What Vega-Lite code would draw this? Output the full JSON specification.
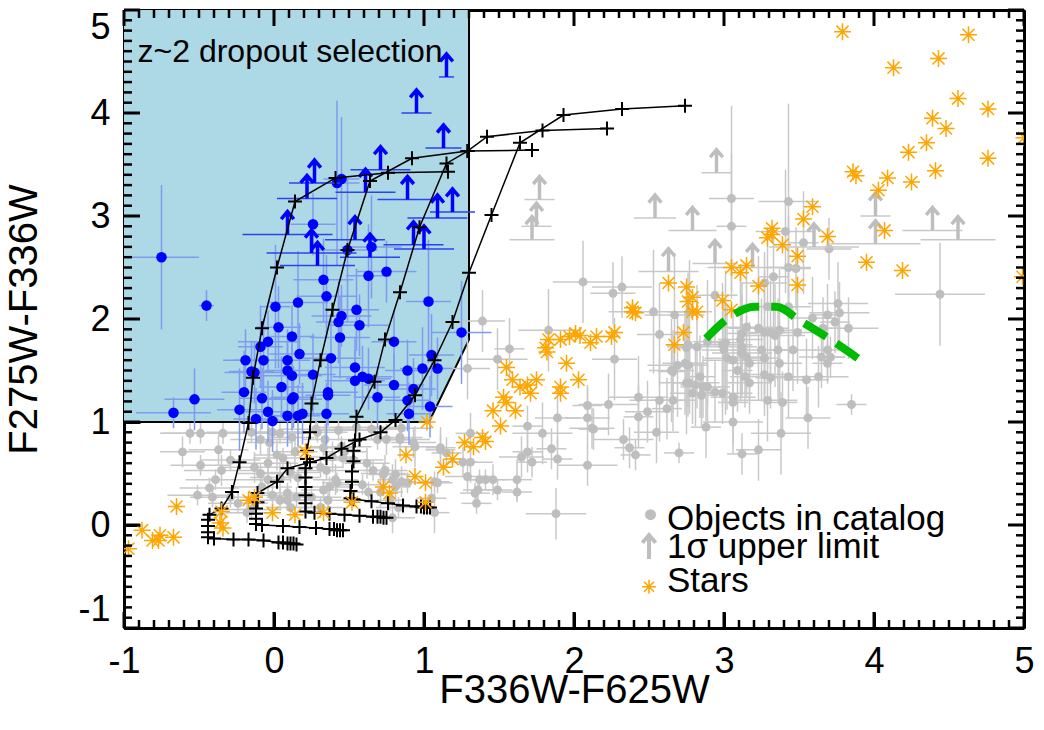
{
"$schema": "https://vega.github.io/schema/vega-lite/v6.json",
"width": 900, "height": 618,
"autosize": {"type": "none"},
"padding": {"left": 124, "top": 10, "right": 20, "bottom": 102},
"background": "white",
"config": {
 "view": {"stroke": null},
 "font": "Liberation Sans",
 "axis": {"grid": false, "domainColor": "black", "domainWidth": 3, "tickColor": "black", "tickWidth": 2.5, "labelFont": "Liberation Sans", "labelFontSize": 36, "labelColor": "black", "titleFont": "Liberation Sans", "titleFontSize": 40, "titleFontWeight": "normal", "titleColor": "black", "zindex": 1}
},
"resolve": {"scale": {"x": "shared", "y": "shared"}, "axis": {"x": "independent", "y": "independent"}},
"datasets": {
 "tmaj": [
{"x":-1,"y":-1,"s":"b"},{"x":0,"y":-1,"s":"b"},{"x":1,"y":-1,"s":"b"},{"x":2,"y":-1,"s":"b"},{"x":3,"y":-1,"s":"b"},{"x":4,"y":-1,"s":"b"},{"x":5,"y":-1,"s":"b"},
{"x":-1,"y":5,"s":"t"},{"x":0,"y":5,"s":"t"},{"x":1,"y":5,"s":"t"},{"x":2,"y":5,"s":"t"},{"x":3,"y":5,"s":"t"},{"x":4,"y":5,"s":"t"},{"x":5,"y":5,"s":"t"},
{"x":-1,"y":-1,"s":"l"},{"x":-1,"y":0,"s":"l"},{"x":-1,"y":1,"s":"l"},{"x":-1,"y":2,"s":"l"},{"x":-1,"y":3,"s":"l"},{"x":-1,"y":4,"s":"l"},{"x":-1,"y":5,"s":"l"},
{"x":5,"y":-1,"s":"r"},{"x":5,"y":0,"s":"r"},{"x":5,"y":1,"s":"r"},{"x":5,"y":2,"s":"r"},{"x":5,"y":3,"s":"r"},{"x":5,"y":4,"s":"r"},{"x":5,"y":5,"s":"r"}
 ],
 "tmin": [
{"x":-0.9,"y":-1,"s":"b"},{"x":-0.8,"y":-1,"s":"b"},{"x":-0.7,"y":-1,"s":"b"},{"x":-0.6,"y":-1,"s":"b"},{"x":-0.5,"y":-1,"s":"b"},{"x":-0.4,"y":-1,"s":"b"},{"x":-0.3,"y":-1,"s":"b"},{"x":-0.2,"y":-1,"s":"b"},{"x":-0.1,"y":-1,"s":"b"},
{"x":0.1,"y":-1,"s":"b"},{"x":0.2,"y":-1,"s":"b"},{"x":0.3,"y":-1,"s":"b"},{"x":0.4,"y":-1,"s":"b"},{"x":0.5,"y":-1,"s":"b"},{"x":0.6,"y":-1,"s":"b"},{"x":0.7,"y":-1,"s":"b"},{"x":0.8,"y":-1,"s":"b"},{"x":0.9,"y":-1,"s":"b"},
{"x":1.1,"y":-1,"s":"b"},{"x":1.2,"y":-1,"s":"b"},{"x":1.3,"y":-1,"s":"b"},{"x":1.4,"y":-1,"s":"b"},{"x":1.5,"y":-1,"s":"b"},{"x":1.6,"y":-1,"s":"b"},{"x":1.7,"y":-1,"s":"b"},{"x":1.8,"y":-1,"s":"b"},{"x":1.9,"y":-1,"s":"b"},
{"x":2.1,"y":-1,"s":"b"},{"x":2.2,"y":-1,"s":"b"},{"x":2.3,"y":-1,"s":"b"},{"x":2.4,"y":-1,"s":"b"},{"x":2.5,"y":-1,"s":"b"},{"x":2.6,"y":-1,"s":"b"},{"x":2.7,"y":-1,"s":"b"},{"x":2.8,"y":-1,"s":"b"},{"x":2.9,"y":-1,"s":"b"},
{"x":3.1,"y":-1,"s":"b"},{"x":3.2,"y":-1,"s":"b"},{"x":3.3,"y":-1,"s":"b"},{"x":3.4,"y":-1,"s":"b"},{"x":3.5,"y":-1,"s":"b"},{"x":3.6,"y":-1,"s":"b"},{"x":3.7,"y":-1,"s":"b"},{"x":3.8,"y":-1,"s":"b"},{"x":3.9,"y":-1,"s":"b"},
{"x":4.1,"y":-1,"s":"b"},{"x":4.2,"y":-1,"s":"b"},{"x":4.3,"y":-1,"s":"b"},{"x":4.4,"y":-1,"s":"b"},{"x":4.5,"y":-1,"s":"b"},{"x":4.6,"y":-1,"s":"b"},{"x":4.7,"y":-1,"s":"b"},{"x":4.8,"y":-1,"s":"b"},{"x":4.9,"y":-1,"s":"b"},
{"x":-0.9,"y":5,"s":"t"},{"x":-0.8,"y":5,"s":"t"},{"x":-0.7,"y":5,"s":"t"},{"x":-0.6,"y":5,"s":"t"},{"x":-0.5,"y":5,"s":"t"},{"x":-0.4,"y":5,"s":"t"},{"x":-0.3,"y":5,"s":"t"},{"x":-0.2,"y":5,"s":"t"},{"x":-0.1,"y":5,"s":"t"},
{"x":0.1,"y":5,"s":"t"},{"x":0.2,"y":5,"s":"t"},{"x":0.3,"y":5,"s":"t"},{"x":0.4,"y":5,"s":"t"},{"x":0.5,"y":5,"s":"t"},{"x":0.6,"y":5,"s":"t"},{"x":0.7,"y":5,"s":"t"},{"x":0.8,"y":5,"s":"t"},{"x":0.9,"y":5,"s":"t"},
{"x":1.1,"y":5,"s":"t"},{"x":1.2,"y":5,"s":"t"},{"x":1.3,"y":5,"s":"t"},{"x":1.4,"y":5,"s":"t"},{"x":1.5,"y":5,"s":"t"},{"x":1.6,"y":5,"s":"t"},{"x":1.7,"y":5,"s":"t"},{"x":1.8,"y":5,"s":"t"},{"x":1.9,"y":5,"s":"t"},
{"x":2.1,"y":5,"s":"t"},{"x":2.2,"y":5,"s":"t"},{"x":2.3,"y":5,"s":"t"},{"x":2.4,"y":5,"s":"t"},{"x":2.5,"y":5,"s":"t"},{"x":2.6,"y":5,"s":"t"},{"x":2.7,"y":5,"s":"t"},{"x":2.8,"y":5,"s":"t"},{"x":2.9,"y":5,"s":"t"},
{"x":3.1,"y":5,"s":"t"},{"x":3.2,"y":5,"s":"t"},{"x":3.3,"y":5,"s":"t"},{"x":3.4,"y":5,"s":"t"},{"x":3.5,"y":5,"s":"t"},{"x":3.6,"y":5,"s":"t"},{"x":3.7,"y":5,"s":"t"},{"x":3.8,"y":5,"s":"t"},{"x":3.9,"y":5,"s":"t"},
{"x":4.1,"y":5,"s":"t"},{"x":4.2,"y":5,"s":"t"},{"x":4.3,"y":5,"s":"t"},{"x":4.4,"y":5,"s":"t"},{"x":4.5,"y":5,"s":"t"},{"x":4.6,"y":5,"s":"t"},{"x":4.7,"y":5,"s":"t"},{"x":4.8,"y":5,"s":"t"},{"x":4.9,"y":5,"s":"t"},
{"x":-1,"y":-0.9,"s":"l"},{"x":-1,"y":-0.8,"s":"l"},{"x":-1,"y":-0.7,"s":"l"},{"x":-1,"y":-0.6,"s":"l"},{"x":-1,"y":-0.5,"s":"l"},{"x":-1,"y":-0.4,"s":"l"},{"x":-1,"y":-0.3,"s":"l"},{"x":-1,"y":-0.2,"s":"l"},{"x":-1,"y":-0.1,"s":"l"},
{"x":-1,"y":0.1,"s":"l"},{"x":-1,"y":0.2,"s":"l"},{"x":-1,"y":0.3,"s":"l"},{"x":-1,"y":0.4,"s":"l"},{"x":-1,"y":0.5,"s":"l"},{"x":-1,"y":0.6,"s":"l"},{"x":-1,"y":0.7,"s":"l"},{"x":-1,"y":0.8,"s":"l"},{"x":-1,"y":0.9,"s":"l"},
{"x":-1,"y":1.1,"s":"l"},{"x":-1,"y":1.2,"s":"l"},{"x":-1,"y":1.3,"s":"l"},{"x":-1,"y":1.4,"s":"l"},{"x":-1,"y":1.5,"s":"l"},{"x":-1,"y":1.6,"s":"l"},{"x":-1,"y":1.7,"s":"l"},{"x":-1,"y":1.8,"s":"l"},{"x":-1,"y":1.9,"s":"l"},
{"x":-1,"y":2.1,"s":"l"},{"x":-1,"y":2.2,"s":"l"},{"x":-1,"y":2.3,"s":"l"},{"x":-1,"y":2.4,"s":"l"},{"x":-1,"y":2.5,"s":"l"},{"x":-1,"y":2.6,"s":"l"},{"x":-1,"y":2.7,"s":"l"},{"x":-1,"y":2.8,"s":"l"},{"x":-1,"y":2.9,"s":"l"},
{"x":-1,"y":3.1,"s":"l"},{"x":-1,"y":3.2,"s":"l"},{"x":-1,"y":3.3,"s":"l"},{"x":-1,"y":3.4,"s":"l"},{"x":-1,"y":3.5,"s":"l"},{"x":-1,"y":3.6,"s":"l"},{"x":-1,"y":3.7,"s":"l"},{"x":-1,"y":3.8,"s":"l"},{"x":-1,"y":3.9,"s":"l"},
{"x":-1,"y":4.1,"s":"l"},{"x":-1,"y":4.2,"s":"l"},{"x":-1,"y":4.3,"s":"l"},{"x":-1,"y":4.4,"s":"l"},{"x":-1,"y":4.5,"s":"l"},{"x":-1,"y":4.6,"s":"l"},{"x":-1,"y":4.7,"s":"l"},{"x":-1,"y":4.8,"s":"l"},{"x":-1,"y":4.9,"s":"l"},
{"x":5,"y":-0.9,"s":"r"},{"x":5,"y":-0.8,"s":"r"},{"x":5,"y":-0.7,"s":"r"},{"x":5,"y":-0.6,"s":"r"},{"x":5,"y":-0.5,"s":"r"},{"x":5,"y":-0.4,"s":"r"},{"x":5,"y":-0.3,"s":"r"},{"x":5,"y":-0.2,"s":"r"},{"x":5,"y":-0.1,"s":"r"},
{"x":5,"y":0.1,"s":"r"},{"x":5,"y":0.2,"s":"r"},{"x":5,"y":0.3,"s":"r"},{"x":5,"y":0.4,"s":"r"},{"x":5,"y":0.5,"s":"r"},{"x":5,"y":0.6,"s":"r"},{"x":5,"y":0.7,"s":"r"},{"x":5,"y":0.8,"s":"r"},{"x":5,"y":0.9,"s":"r"},
{"x":5,"y":1.1,"s":"r"},{"x":5,"y":1.2,"s":"r"},{"x":5,"y":1.3,"s":"r"},{"x":5,"y":1.4,"s":"r"},{"x":5,"y":1.5,"s":"r"},{"x":5,"y":1.6,"s":"r"},{"x":5,"y":1.7,"s":"r"},{"x":5,"y":1.8,"s":"r"},{"x":5,"y":1.9,"s":"r"},
{"x":5,"y":2.1,"s":"r"},{"x":5,"y":2.2,"s":"r"},{"x":5,"y":2.3,"s":"r"},{"x":5,"y":2.4,"s":"r"},{"x":5,"y":2.5,"s":"r"},{"x":5,"y":2.6,"s":"r"},{"x":5,"y":2.7,"s":"r"},{"x":5,"y":2.8,"s":"r"},{"x":5,"y":2.9,"s":"r"},
{"x":5,"y":3.1,"s":"r"},{"x":5,"y":3.2,"s":"r"},{"x":5,"y":3.3,"s":"r"},{"x":5,"y":3.4,"s":"r"},{"x":5,"y":3.5,"s":"r"},{"x":5,"y":3.6,"s":"r"},{"x":5,"y":3.7,"s":"r"},{"x":5,"y":3.8,"s":"r"},{"x":5,"y":3.9,"s":"r"},
{"x":5,"y":4.1,"s":"r"},{"x":5,"y":4.2,"s":"r"},{"x":5,"y":4.3,"s":"r"},{"x":5,"y":4.4,"s":"r"},{"x":5,"y":4.5,"s":"r"},{"x":5,"y":4.6,"s":"r"},{"x":5,"y":4.7,"s":"r"},{"x":5,"y":4.8,"s":"r"},{"x":5,"y":4.9,"s":"r"}
 ],
 "box": [{"x": -1, "ylo": 1, "yhi": 5}, {"x": 1.033, "ylo": 1, "yhi": 5}, {"x": 1.3, "ylo": 1.8, "yhi": 5}],
 "boxline": [{"o": 1, "x": 1.3, "y": 5}, {"o": 2, "x": 1.3, "y": 1.8}, {"o": 3, "x": 1.033, "y": 1}, {"o": 4, "x": -1, "y": 1}],
 "gray": [
{"x":3.05,"y":3.17,"ex":0.15,"ey":0.9},{"x":3.43,"y":3.14,"ex":0.2,"ey":0.95},{"x":3.05,"y":2.90,"ex":0.1,"ey":0.7},{"x":3.41,"y":2.85,"ex":0.2,"ey":0.6},{"x":3.53,"y":2.74,"ex":0.1,"ey":0.5},{"x":3.70,"y":2.68,"ex":0.15,"ey":0.3},{"x":3.43,"y":2.50,"ex":0.15,"ey":0.5},{"x":3.48,"y":2.49,"ex":0.1,"ey":0.4},{"x":3.33,"y":2.41,"ex":0.1,"ey":0.5},{"x":3.27,"y":2.35,"ex":0.15,"ey":0.3},
{"x":2.32,"y":2.31,"ex":0.2,"ey":0.3},{"x":2.06,"y":2.36,"ex":0.2,"ey":0.4},{"x":2.26,"y":2.25,"ex":0.15,"ey":0.3},{"x":4.44,"y":2.24,"ex":0.3,"ey":0.5},{"x":3.76,"y":2.15,"ex":0.2,"ey":0.4},{"x":2.94,"y":2.23,"ex":0.15,"ey":0.5},{"x":3.29,"y":2.12,"ex":0.2,"ey":0.6},{"x":3.43,"y":2.12,"ex":0.15,"ey":0.5},{"x":3.77,"y":2.06,"ex":0.2,"ey":0.3},{"x":3.69,"y":2.04,"ex":0.1,"ey":0.3},
{"x":2.53,"y":2.07,"ex":0.3,"ey":0.6},{"x":2.67,"y":2.04,"ex":0.2,"ey":0.6},{"x":2.77,"y":2.07,"ex":0.15,"ey":0.5},{"x":3.83,"y":1.91,"ex":0.2,"ey":0.3},{"x":3.59,"y":2.01,"ex":0.15,"ey":0.4},{"x":3.74,"y":1.97,"ex":0.1,"ey":0.3},{"x":3.66,"y":1.91,"ex":0.1,"ey":0.3},{"x":3.49,"y":1.87,"ex":0.2,"ey":0.5},{"x":3.46,"y":1.70,"ex":0.15,"ey":0.4},{"x":3.69,"y":1.70,"ex":0.1,"ey":0.3},
{"x":3.65,"y":1.63,"ex":0.15,"ey":0.3},{"x":3.71,"y":1.63,"ex":0.1,"ey":0.2},{"x":3.69,"y":1.57,"ex":0.1,"ey":0.2},{"x":3.63,"y":1.44,"ex":0.2,"ey":0.3},{"x":3.55,"y":1.41,"ex":0.15,"ey":0.4},{"x":3.43,"y":1.44,"ex":0.1,"ey":0.4},{"x":3.37,"y":1.89,"ex":0.15,"ey":0.6},{"x":3.34,"y":1.84,"ex":0.2,"ey":0.5},{"x":3.31,"y":1.87,"ex":0.1,"ey":0.5},{"x":3.27,"y":1.87,"ex":0.15,"ey":0.6},
{"x":3.23,"y":1.91,"ex":0.2,"ey":0.7},{"x":3.36,"y":1.70,"ex":0.1,"ey":0.5},{"x":3.37,"y":1.57,"ex":0.15,"ey":0.4},{"x":3.25,"y":1.70,"ex":0.2,"ey":0.5},{"x":3.27,"y":1.62,"ex":0.1,"ey":0.4},{"x":3.27,"y":1.46,"ex":0.15,"ey":0.4},{"x":3.31,"y":1.43,"ex":0.1,"ey":0.3},{"x":3.29,"y":1.21,"ex":0.2,"ey":0.4},{"x":3.39,"y":1.19,"ex":0.1,"ey":0.3},{"x":3.56,"y":1.04,"ex":0.15,"ey":0.3},
{"x":3.85,"y":1.17,"ex":0.1,"ey":0.1},{"x":3.15,"y":1.92,"ex":0.2,"ey":0.6},{"x":3.12,"y":1.86,"ex":0.1,"ey":0.5},{"x":3.11,"y":1.80,"ex":0.15,"ey":0.6},{"x":3.12,"y":1.73,"ex":0.1,"ey":0.5},{"x":3.12,"y":1.67,"ex":0.2,"ey":0.4},{"x":3.15,"y":1.63,"ex":0.1,"ey":0.4},{"x":3.17,"y":1.57,"ex":0.15,"ey":0.4},{"x":3.06,"y":1.60,"ex":0.2,"ey":0.5},{"x":3.09,"y":1.50,"ex":0.1,"ey":0.4},
{"x":3.02,"y":1.62,"ex":0.15,"ey":0.5},{"x":3.14,"y":1.44,"ex":0.1,"ey":0.3},{"x":3.17,"y":1.38,"ex":0.15,"ey":0.3},{"x":2.99,"y":1.75,"ex":0.2,"ey":0.6},{"x":3.01,"y":1.77,"ex":0.1,"ey":0.7},{"x":3.00,"y":1.70,"ex":0.15,"ey":0.5},{"x":2.89,"y":1.78,"ex":0.1,"ey":0.6},{"x":2.82,"y":1.73,"ex":0.2,"ey":0.6},{"x":2.76,"y":1.75,"ex":0.15,"ey":0.7},{"x":2.75,"y":1.72,"ex":0.1,"ey":0.5},
{"x":2.74,"y":1.57,"ex":0.15,"ey":0.5},{"x":2.76,"y":1.55,"ex":0.1,"ey":0.4},{"x":2.69,"y":1.55,"ex":0.2,"ey":0.5},{"x":2.66,"y":1.49,"ex":0.1,"ey":0.4},{"x":2.65,"y":1.50,"ex":0.15,"ey":0.5},{"x":2.84,"y":1.44,"ex":0.1,"ey":0.4},{"x":2.86,"y":1.34,"ex":0.15,"ey":0.3},{"x":2.81,"y":1.36,"ex":0.1,"ey":0.4},{"x":2.77,"y":1.38,"ex":0.2,"ey":0.3},{"x":2.75,"y":1.38,"ex":0.1,"ey":0.5},
{"x":2.79,"y":1.28,"ex":0.15,"ey":0.3},{"x":2.85,"y":1.26,"ex":0.1,"ey":0.3},{"x":2.89,"y":1.34,"ex":0.15,"ey":0.4},{"x":2.94,"y":1.29,"ex":0.1,"ey":0.3},{"x":2.99,"y":1.28,"ex":0.2,"ey":0.3},{"x":3.06,"y":1.24,"ex":0.15,"ey":0.3},{"x":3.06,"y":1.19,"ex":0.1,"ey":0.4},{"x":2.66,"y":1.21,"ex":0.15,"ey":0.3},{"x":2.57,"y":1.21,"ex":0.2,"ey":0.4},{"x":2.62,"y":1.13,"ex":0.1,"ey":0.3},
{"x":2.55,"y":0.90,"ex":0.15,"ey":0.3},{"x":2.43,"y":1.24,"ex":0.2,"ey":0.4},{"x":2.43,"y":1.05,"ex":0.1,"ey":0.3},{"x":2.49,"y":1.10,"ex":0.15,"ey":0.3},{"x":2.88,"y":0.95,"ex":0.1,"ey":0.3},{"x":3.06,"y":1.00,"ex":0.2,"ey":0.3},{"x":3.12,"y":0.69,"ex":0.1,"ey":0.2},{"x":3.23,"y":0.73,"ex":0.15,"ey":0.3},{"x":3.38,"y":0.89,"ex":0.2,"ey":0.4},{"x":2.33,"y":0.83,"ex":0.2,"ey":0.2},
{"x":2.37,"y":0.75,"ex":0.1,"ey":0.2},{"x":2.41,"y":0.68,"ex":0.1,"ey":0.15},{"x":2.70,"y":0.70,"ex":0.1,"ey":0.1},{"x":2.23,"y":1.17,"ex":0.2,"ey":0.3},{"x":2.09,"y":1.16,"ex":0.1,"ey":0.2},{"x":2.09,"y":1.04,"ex":0.15,"ey":0.3},{"x":2.13,"y":0.93,"ex":0.1,"ey":0.2},{"x":1.89,"y":1.04,"ex":0.15,"ey":0.3},{"x":1.79,"y":0.89,"ex":0.2,"ey":0.3},{"x":1.69,"y":0.96,"ex":0.1,"ey":0.2},
{"x":1.85,"y":0.74,"ex":0.1,"ey":0.2},{"x":1.89,"y":0.64,"ex":0.1,"ey":0.2},{"x":2.09,"y":0.58,"ex":0.2,"ey":0.2},{"x":1.69,"y":0.71,"ex":0.1,"ey":0.2},{"x":1.65,"y":0.66,"ex":0.15,"ey":0.2},{"x":1.72,"y":0.61,"ex":0.1,"ey":0.15},{"x":1.62,"y":0.44,"ex":0.1,"ey":0.2},{"x":1.46,"y":0.44,"ex":0.1,"ey":0.15},{"x":1.41,"y":0.44,"ex":0.1,"ey":0.1},{"x":1.37,"y":0.44,"ex":0.1,"ey":0.1},
{"x":1.29,"y":0.47,"ex":0.15,"ey":0.15},{"x":1.49,"y":0.34,"ex":0.1,"ey":0.1},{"x":1.36,"y":0.34,"ex":0.1,"ey":0.1},{"x":1.34,"y":0.31,"ex":0.1,"ey":0.1},{"x":1.35,"y":0.21,"ex":0.1,"ey":0.1},{"x":1.62,"y":0.32,"ex":0.1,"ey":0.1},{"x":1.31,"y":0.61,"ex":0.15,"ey":0.2},{"x":1.26,"y":0.61,"ex":0.1,"ey":0.15},{"x":1.31,"y":0.89,"ex":0.1,"ey":0.2},{"x":1.29,"y":1.52,"ex":0.15,"ey":0.3},
{"x":1.39,"y":1.98,"ex":0.15,"ey":0.3},{"x":1.83,"y":1.89,"ex":0.2,"ey":0.4},{"x":2.57,"y":1.85,"ex":0.15,"ey":0.5},{"x":1.57,"y":1.71,"ex":0.1,"ey":0.3},{"x":1.49,"y":1.61,"ex":0.2,"ey":0.3},{"x":2.27,"y":1.61,"ex":0.15,"ey":0.4},{"x":2.12,"y":0.94,"ex":0.15,"ey":0.2},{"x":1.11,"y":0.75,"ex":0.1,"ey":0.2},{"x":1.15,"y":0.70,"ex":0.1,"ey":0.15},{"x":1.09,"y":0.41,"ex":0.1,"ey":0.1},
{"x":1.07,"y":0.42,"ex":0.1,"ey":0.1},{"x":0.94,"y":0.76,"ex":0.15,"ey":0.2},{"x":0.84,"y":0.85,"ex":0.15,"ey":0.2},{"x":0.74,"y":0.53,"ex":0.15,"ey":0.15},{"x":0.81,"y":0.49,"ex":0.1,"ey":0.15},{"x":0.79,"y":0.44,"ex":0.1,"ey":0.15},{"x":0.73,"y":0.49,"ex":0.1,"ey":0.1},{"x":0.81,"y":0.37,"ex":0.1,"ey":0.15},{"x":0.89,"y":0.41,"ex":0.1,"ey":0.1},{"x":1.07,"y":0.12,"ex":0.1,"ey":0.2},
{"x":0.79,"y":0.07,"ex":0.15,"ey":0.15},{"x":1.88,"y":0.11,"ex":0.2,"ey":0.25},
{"x":-0.56,"y":0.89,"ex":0.2,"ey":0.1},{"x":-0.49,"y":0.89,"ex":0.25,"ey":0.1},{"x":-0.34,"y":0.89,"ex":0.2,"ey":0.1},{"x":-0.61,"y":0.71,"ex":0.15,"ey":0.15},{"x":-0.49,"y":0.58,"ex":0.2,"ey":0.1},{"x":-0.37,"y":0.73,"ex":0.2,"ey":0.15},{"x":-0.29,"y":0.63,"ex":0.2,"ey":0.1},{"x":-0.35,"y":0.53,"ex":0.25,"ey":0.15},{"x":-0.39,"y":0.44,"ex":0.2,"ey":0.1},{"x":-0.43,"y":0.36,"ex":0.2,"ey":0.1},
{"x":-0.41,"y":0.27,"ex":0.15,"ey":0.1},{"x":-0.51,"y":0.29,"ex":0.2,"ey":0.1},{"x":-0.09,"y":0.83,"ex":0.2,"ey":0.15},{"x":-0.03,"y":0.80,"ex":0.15,"ey":0.15},{"x":-0.01,"y":0.90,"ex":0.2,"ey":0.1},{"x":-0.15,"y":0.90,"ex":0.3,"ey":0.1},{"x":-0.13,"y":0.56,"ex":0.2,"ey":0.15},{"x":-0.09,"y":0.50,"ex":0.15,"ey":0.1},{"x":-0.04,"y":0.60,"ex":0.2,"ey":0.15},{"x":-0.04,"y":0.44,"ex":0.15,"ey":0.15},
{"x":-0.08,"y":0.37,"ex":0.2,"ey":0.1},{"x":-0.01,"y":0.29,"ex":0.15,"ey":0.1},{"x":0.04,"y":0.24,"ex":0.2,"ey":0.1},{"x":0.09,"y":0.31,"ex":0.15,"ey":0.1},{"x":0.04,"y":0.89,"ex":0.2,"ey":0.1},{"x":0.12,"y":0.85,"ex":0.15,"ey":0.15},{"x":0.14,"y":0.71,"ex":0.15,"ey":0.15},{"x":0.06,"y":0.65,"ex":0.2,"ey":0.1},{"x":0.02,"y":0.68,"ex":0.15,"ey":0.15},{"x":0.11,"y":0.51,"ex":0.2,"ey":0.1},
{"x":0.16,"y":0.46,"ex":0.15,"ey":0.1},{"x":0.04,"y":0.46,"ex":0.2,"ey":0.15},{"x":0.09,"y":0.24,"ex":0.15,"ey":0.1},{"x":0.11,"y":0.17,"ex":0.15,"ey":0.1},{"x":0.15,"y":0.27,"ex":0.2,"ey":0.1},{"x":0.29,"y":0.90,"ex":0.2,"ey":0.1},{"x":0.34,"y":0.83,"ex":0.15,"ey":0.15},{"x":0.33,"y":0.75,"ex":0.2,"ey":0.1},{"x":0.39,"y":0.66,"ex":0.15,"ey":0.15},{"x":0.45,"y":0.76,"ex":0.2,"ey":0.1},
{"x":0.31,"y":0.56,"ex":0.15,"ey":0.1},{"x":0.35,"y":0.53,"ex":0.2,"ey":0.1},{"x":0.41,"y":0.44,"ex":0.15,"ey":0.15},{"x":0.42,"y":0.41,"ex":0.1,"ey":0.1},{"x":0.37,"y":0.37,"ex":0.15,"ey":0.1},{"x":0.25,"y":0.27,"ex":0.2,"ey":0.1},{"x":0.33,"y":0.34,"ex":0.15,"ey":0.1},{"x":0.47,"y":0.71,"ex":0.15,"ey":0.1},{"x":0.46,"y":0.65,"ex":0.1,"ey":0.1},{"x":0.53,"y":0.63,"ex":0.2,"ey":0.1},
{"x":0.62,"y":0.60,"ex":0.15,"ey":0.15},{"x":0.66,"y":0.53,"ex":0.1,"ey":0.1},{"x":0.73,"y":0.50,"ex":0.15,"ey":0.1},{"x":0.59,"y":0.39,"ex":0.15,"ey":0.1},{"x":0.63,"y":0.32,"ex":0.1,"ey":0.1},{"x":0.71,"y":0.32,"ex":0.15,"ey":0.15},{"x":0.77,"y":0.24,"ex":0.1,"ey":0.1},{"x":0.83,"y":0.17,"ex":0.15,"ey":0.1},{"x":0.85,"y":0.42,"ex":0.1,"ey":0.15},{"x":0.69,"y":0.83,"ex":0.2,"ey":0.1},
{"x":0.75,"y":0.83,"ex":0.15,"ey":0.15},{"x":0.84,"y":0.83,"ex":0.2,"ey":0.1},{"x":0.93,"y":0.80,"ex":0.15,"ey":0.15},{"x":0.85,"y":0.94,"ex":0.2,"ey":0.1},{"x":1.05,"y":0.26,"ex":0.1,"ey":0.15},{"x":1.11,"y":0.73,"ex":0.1,"ey":0.15},{"x":-0.15,"y":0.15,"ex":0.2,"ey":0.1},{"x":-0.29,"y":0.27,"ex":0.15,"ey":0.1},{"x":-0.24,"y":0.21,"ex":0.2,"ey":0.1},{"x":-0.18,"y":0.12,"ex":0.15,"ey":0.1},
{"x":0.28,"y":0.93,"ex":0.25,"ey":0.1},{"x":0.43,"y":0.92,"ex":0.2,"ey":0.1},{"x":0.55,"y":0.95,"ex":0.3,"ey":0.1},{"x":0.65,"y":0.93,"ex":0.2,"ey":0.1},{"x":0.31,"y":0.17,"ex":0.15,"ey":0.1},{"x":0.36,"y":0.24,"ex":0.2,"ey":0.1}
 ],
 "garrow": [
{"x":1.77,"y":3.16,"ex":0.1},{"x":1.75,"y":2.90,"ex":0.1},{"x":1.72,"y":2.77,"ex":0.15},{"x":2.54,"y":2.98,"ex":0.14},{"x":2.79,"y":2.86,"ex":0.16},{"x":2.63,"y":2.46,"ex":0.2},{"x":2.95,"y":3.42,"ex":0.1},{"x":2.94,"y":2.54,"ex":0.15},{"x":3.19,"y":2.50,"ex":0.3},{"x":3.60,"y":2.70,"ex":0.3},{"x":4.01,"y":3.00,"ex":0.1},{"x":4.01,"y":2.73,"ex":0.3},{"x":4.39,"y":2.86,"ex":0.2},{"x":4.56,"y":2.77,"ex":0.25}
 ],
 "blue": [
{"x":0.42,"y":3.32,"ex":0.15,"ey":0.8},{"x":0.45,"y":3.36,"ex":0.12,"ey":0.6},{"x":0.26,"y":2.92,"ex":0.15,"ey":0.3},{"x":0.49,"y":2.67,"ex":0.2,"ey":0.7},{"x":0.65,"y":2.70,"ex":0.2,"ey":0.5},{"x":0.33,"y":2.38,"ex":0.2,"ey":0.4},{"x":0.63,"y":2.42,"ex":0.15,"ey":0.5},{"x":0.75,"y":2.46,"ex":0.2,"ey":0.3},{"x":-0.45,"y":2.13,"ex":0.05,"ey":0.15},{"x":-0.75,"y":2.60,"ex":0.25,"ey":0.7},
{"x":0.35,"y":2.22,"ex":0.2,"ey":0.4},{"x":0.01,"y":2.12,"ex":0.1,"ey":0.6},{"x":0.16,"y":2.16,"ex":0.2,"ey":0.5},{"x":1.03,"y":2.17,"ex":0.15,"ey":0.6},{"x":0.55,"y":2.09,"ex":0.15,"ey":0.4},{"x":0.45,"y":2.03,"ex":0.2,"ey":0.3},{"x":0.43,"y":1.97,"ex":0.15,"ey":0.4},{"x":0.57,"y":1.94,"ex":0.2,"ey":0.3},{"x":0.03,"y":1.92,"ex":0.15,"ey":0.4},{"x":0.12,"y":1.83,"ex":0.15,"ey":0.3},
{"x":0.44,"y":1.82,"ex":0.2,"ey":0.4},{"x":-0.04,"y":1.78,"ex":0.2,"ey":0.3},{"x":-0.09,"y":1.73,"ex":0.15,"ey":0.4},{"x":0.80,"y":1.78,"ex":0.15,"ey":0.3},{"x":1.25,"y":1.87,"ex":0.2,"ey":0.5},{"x":0.17,"y":1.66,"ex":0.2,"ey":0.3},{"x":-0.19,"y":1.60,"ex":0.15,"ey":0.3},{"x":-0.07,"y":1.60,"ex":0.2,"ey":0.4},{"x":0.09,"y":1.60,"ex":0.15,"ey":0.3},{"x":0.38,"y":1.62,"ex":0.2,"ey":0.4},
{"x":1.05,"y":1.65,"ex":0.15,"ey":0.4},{"x":0.54,"y":1.53,"ex":0.2,"ey":0.3},{"x":0.89,"y":1.50,"ex":0.15,"ey":0.3},{"x":0.99,"y":1.52,"ex":0.15,"ey":0.4},{"x":1.09,"y":1.52,"ex":0.1,"ey":0.3},{"x":-0.13,"y":1.48,"ex":0.2,"ey":0.3},{"x":-0.15,"y":1.49,"ex":0.15,"ey":0.3},{"x":0.09,"y":1.50,"ex":0.15,"ey":0.3},{"x":0.12,"y":1.45,"ex":0.2,"ey":0.3},{"x":0.26,"y":1.46,"ex":0.15,"ey":0.4},
{"x":0.59,"y":1.44,"ex":0.2,"ey":0.3},{"x":0.63,"y":1.42,"ex":0.15,"ey":0.3},{"x":0.54,"y":1.40,"ex":0.2,"ey":0.3},{"x":0.05,"y":1.34,"ex":0.15,"ey":0.3},{"x":0.80,"y":1.36,"ex":0.2,"ey":0.3},{"x":0.93,"y":1.32,"ex":0.15,"ey":0.3},{"x":-0.20,"y":1.29,"ex":0.15,"ey":0.4},{"x":0.36,"y":1.29,"ex":0.2,"ey":0.3},{"x":0.36,"y":1.26,"ex":0.15,"ey":0.3},{"x":-0.08,"y":1.23,"ex":0.15,"ey":0.3},
{"x":0.12,"y":1.22,"ex":0.2,"ey":0.3},{"x":0.13,"y":1.24,"ex":0.15,"ey":0.3},{"x":0.69,"y":1.24,"ex":0.15,"ey":0.3},{"x":0.89,"y":1.21,"ex":0.15,"ey":0.3},{"x":-0.53,"y":1.22,"ex":0.2,"ey":0.3},{"x":1.04,"y":1.15,"ex":0.15,"ey":0.3},{"x":-0.23,"y":1.12,"ex":0.15,"ey":0.4},{"x":-0.04,"y":1.10,"ex":0.15,"ey":0.3},{"x":-0.01,"y":1.01,"ex":0.15,"ey":0.3},{"x":-0.12,"y":1.03,"ex":0.15,"ey":0.3},
{"x":0.09,"y":1.06,"ex":0.15,"ey":0.3},{"x":0.16,"y":1.06,"ex":0.15,"ey":0.3},{"x":0.19,"y":1.08,"ex":0.15,"ey":0.3},{"x":0.35,"y":1.08,"ex":0.15,"ey":0.3},{"x":0.90,"y":1.08,"ex":0.15,"ey":0.3},{"x":-0.67,"y":1.09,"ex":0.25,"ey":0.15}
 ],
 "barrow": [
{"x":0.95,"y":4.00,"ex":0.1},{"x":1.15,"y":4.35,"ex":0.05},{"x":1.13,"y":3.66,"ex":0.12},{"x":0.71,"y":3.45,"ex":0.2},{"x":0.27,"y":3.32,"ex":0.17},{"x":0.22,"y":3.17,"ex":0.2},{"x":0.61,"y":3.23,"ex":0.2},{"x":0.89,"y":3.16,"ex":0.2},{"x":1.19,"y":3.04,"ex":0.15},{"x":1.09,"y":2.98,"ex":0.2},{"x":0.09,"y":2.82,"ex":0.3},{"x":0.54,"y":2.77,"ex":0.2},{"x":0.93,"y":2.72,"ex":0.2},{"x":1.00,"y":2.68,"ex":0.2},{"x":0.25,"y":2.64,"ex":0.3},{"x":0.29,"y":2.52,"ex":0.25},{"x":0.64,"y":2.60,"ex":0.2}
 ],
 "tracks": [
{"t":1,"o":1,"x":0.15,"y":-0.19},{"t":1,"o":2,"x":0.13,"y":-0.18},{"t":1,"o":3,"x":0.11,"y":-0.18},{"t":1,"o":4,"x":0.09,"y":-0.18},{"t":1,"o":5,"x":0.06,"y":-0.17},{"t":1,"o":6,"x":0.03,"y":-0.17},{"t":1,"o":7,"x":-0.07,"y":-0.15},{"t":1,"o":8,"x":-0.17,"y":-0.14},{"t":1,"o":9,"x":-0.27,"y":-0.14},{"t":1,"o":10,"x":-0.40,"y":-0.13},{"t":1,"o":11,"x":-0.44,"y":-0.12},{"t":1,"o":12,"x":-0.44,"y":-0.07},{"t":1,"o":13,"x":-0.44,"y":-0.01},{"t":1,"o":14,"x":-0.44,"y":0.05},{"t":1,"o":15,"x":-0.43,"y":0.10},{"t":1,"o":16,"x":-0.35,"y":0.16},{"t":1,"o":17,"x":-0.28,"y":0.32},{"t":1,"o":18,"x":-0.23,"y":0.61},{"t":1,"o":19,"x":-0.17,"y":0.99},{"t":1,"o":20,"x":-0.14,"y":1.43},{"t":1,"o":21,"x":-0.08,"y":1.91},{"t":1,"o":22,"x":0.02,"y":2.50},{"t":1,"o":23,"x":0.14,"y":3.14},{"t":1,"o":24,"x":0.41,"y":3.37},{"t":1,"o":25,"x":0.76,"y":3.42},{"t":1,"o":26,"x":1.16,"y":3.43},
{"t":2,"o":1,"x":0.46,"y":-0.05},{"t":2,"o":2,"x":0.44,"y":-0.05},{"t":2,"o":3,"x":0.42,"y":-0.05},{"t":2,"o":4,"x":0.40,"y":-0.04},{"t":2,"o":5,"x":0.37,"y":-0.04},{"t":2,"o":6,"x":0.28,"y":-0.03},{"t":2,"o":7,"x":0.17,"y":-0.02},{"t":2,"o":8,"x":0.06,"y":-0.01},{"t":2,"o":9,"x":-0.08,"y":0.0},{"t":2,"o":10,"x":-0.12,"y":0.01},{"t":2,"o":11,"x":-0.12,"y":0.06},{"t":2,"o":12,"x":-0.12,"y":0.11},{"t":2,"o":13,"x":-0.12,"y":0.16},{"t":2,"o":14,"x":-0.11,"y":0.22},{"t":2,"o":15,"x":-0.11,"y":0.31},{"t":2,"o":16,"x":0.02,"y":0.42},{"t":2,"o":17,"x":0.09,"y":0.55},{"t":2,"o":18,"x":0.24,"y":0.61},{"t":2,"o":19,"x":0.35,"y":0.65},{"t":2,"o":20,"x":0.45,"y":0.74},{"t":2,"o":21,"x":0.57,"y":0.83},{"t":2,"o":22,"x":0.71,"y":0.90},{"t":2,"o":23,"x":0.81,"y":1.02},{"t":2,"o":24,"x":0.94,"y":1.26},{"t":2,"o":25,"x":1.07,"y":1.60},{"t":2,"o":26,"x":1.19,"y":1.97},{"t":2,"o":27,"x":1.30,"y":2.45},{"t":2,"o":28,"x":1.45,"y":3.01},{"t":2,"o":29,"x":1.64,"y":3.71},{"t":2,"o":30,"x":1.93,"y":3.98},{"t":2,"o":31,"x":2.32,"y":4.04},{"t":2,"o":32,"x":2.74,"y":4.07},
{"t":3,"o":1,"x":0.75,"y":0.07},{"t":3,"o":2,"x":0.73,"y":0.07},{"t":3,"o":3,"x":0.71,"y":0.08},{"t":3,"o":4,"x":0.69,"y":0.08},{"t":3,"o":5,"x":0.66,"y":0.08},{"t":3,"o":6,"x":0.57,"y":0.09},{"t":3,"o":7,"x":0.47,"y":0.10},{"t":3,"o":8,"x":0.37,"y":0.11},{"t":3,"o":9,"x":0.27,"y":0.12},{"t":3,"o":10,"x":0.21,"y":0.13},{"t":3,"o":11,"x":0.21,"y":0.21},{"t":3,"o":12,"x":0.21,"y":0.29},{"t":3,"o":13,"x":0.21,"y":0.37},{"t":3,"o":14,"x":0.21,"y":0.46},{"t":3,"o":15,"x":0.21,"y":0.55},{"t":3,"o":16,"x":0.22,"y":0.64},{"t":3,"o":17,"x":0.22,"y":0.72},{"t":3,"o":18,"x":0.24,"y":0.90},{"t":3,"o":19,"x":0.25,"y":1.18},{"t":3,"o":20,"x":0.31,"y":1.60},{"t":3,"o":21,"x":0.39,"y":2.09},{"t":3,"o":22,"x":0.49,"y":2.67},{"t":3,"o":23,"x":0.64,"y":3.34},{"t":3,"o":24,"x":0.92,"y":3.56},{"t":3,"o":25,"x":1.29,"y":3.63},{"t":3,"o":26,"x":1.72,"y":3.64},
{"t":4,"o":1,"x":1.04,"y":0.17},{"t":4,"o":2,"x":1.02,"y":0.17},{"t":4,"o":3,"x":1.00,"y":0.17},{"t":4,"o":4,"x":0.98,"y":0.18},{"t":4,"o":5,"x":0.95,"y":0.18},{"t":4,"o":6,"x":0.86,"y":0.19},{"t":4,"o":7,"x":0.76,"y":0.21},{"t":4,"o":8,"x":0.65,"y":0.23},{"t":4,"o":9,"x":0.53,"y":0.25},{"t":4,"o":10,"x":0.51,"y":0.26},{"t":4,"o":11,"x":0.51,"y":0.33},{"t":4,"o":12,"x":0.52,"y":0.42},{"t":4,"o":13,"x":0.52,"y":0.52},{"t":4,"o":14,"x":0.53,"y":0.62},{"t":4,"o":15,"x":0.53,"y":0.72},{"t":4,"o":16,"x":0.54,"y":0.82},{"t":4,"o":17,"x":0.55,"y":1.05},{"t":4,"o":18,"x":0.67,"y":1.39},{"t":4,"o":19,"x":0.74,"y":1.80},{"t":4,"o":20,"x":0.84,"y":2.26},{"t":4,"o":21,"x":0.97,"y":2.89},{"t":4,"o":22,"x":1.15,"y":3.51},{"t":4,"o":23,"x":1.29,"y":3.63},{"t":4,"o":24,"x":1.42,"y":3.77},{"t":4,"o":25,"x":1.79,"y":3.83},{"t":4,"o":26,"x":2.22,"y":3.85}
 ],
 "stars": [
{"x":3.79,"y":4.79},{"x":4.63,"y":4.76},{"x":4.43,"y":4.53},{"x":4.13,"y":4.44},{"x":4.56,"y":4.14},{"x":4.76,"y":4.04},{"x":4.39,"y":3.95},{"x":4.48,"y":3.85},{"x":4.35,"y":3.71},{"x":4.23,"y":3.62},{"x":4.76,"y":3.56},{"x":4.41,"y":3.44},{"x":3.86,"y":3.43},{"x":3.88,"y":3.39},{"x":4.25,"y":3.33},{"x":4.09,"y":3.37},{"x":4.03,"y":3.25},{"x":3.59,"y":3.09},{"x":3.53,"y":2.97},{"x":3.32,"y":2.88},
{"x":3.32,"y":2.82},{"x":3.29,"y":2.79},{"x":3.39,"y":2.72},{"x":3.69,"y":2.80},{"x":3.49,"y":2.61},{"x":4.07,"y":2.86},{"x":3.95,"y":2.55},{"x":4.19,"y":2.47},{"x":4.99,"y":2.41},{"x":5.0,"y":3.76},{"x":2.63,"y":2.35},{"x":2.75,"y":2.31},{"x":2.79,"y":2.21},{"x":2.76,"y":2.17},{"x":3.05,"y":2.50},{"x":3.15,"y":2.52},{"x":3.11,"y":2.45},{"x":3.23,"y":2.32},{"x":3.49,"y":2.33},{"x":2.99,"y":2.18},
{"x":2.39,"y":2.11},{"x":2.79,"y":2.07},{"x":2.82,"y":2.07},{"x":3.05,"y":2.09},{"x":2.73,"y":1.87},{"x":2.67,"y":1.75},{"x":2.39,"y":2.07},{"x":2.41,"y":2.06},{"x":2.27,"y":1.87},{"x":2.25,"y":1.83},{"x":2.15,"y":1.83},{"x":2.11,"y":1.77},{"x":2.04,"y":1.84},{"x":2.01,"y":1.86},{"x":1.97,"y":1.83},{"x":1.91,"y":1.80},{"x":1.83,"y":1.80},{"x":1.81,"y":1.72},{"x":1.82,"y":1.68},{"x":1.95,"y":1.57},
{"x":1.55,"y":1.53},{"x":1.59,"y":1.41},{"x":1.75,"y":1.41},{"x":1.69,"y":1.36},{"x":1.71,"y":1.28},{"x":2.03,"y":1.41},{"x":1.91,"y":1.34},{"x":1.91,"y":1.28},{"x":1.64,"y":1.34},{"x":1.53,"y":1.24},{"x":1.55,"y":1.19},{"x":1.46,"y":1.11},{"x":1.61,"y":1.11},{"x":1.51,"y":0.96},{"x":1.39,"y":0.85},{"x":1.41,"y":0.81},{"x":1.33,"y":0.76},{"x":1.27,"y":0.80},{"x":1.19,"y":0.64},{"x":1.13,"y":0.56},
{"x":0.88,"y":0.68},{"x":0.94,"y":0.47},{"x":1.01,"y":0.41},{"x":0.77,"y":0.31},{"x":0.73,"y":0.37},{"x":1.01,"y":0.22},{"x":1.02,"y":1.00},{"x":0.52,"y":0.22},{"x":0.33,"y":0.12},{"x":0.14,"y":0.10},{"x":-0.01,"y":0.12},{"x":-0.17,"y":0.24},{"x":-0.13,"y":0.27},{"x":0.21,"y":0.71},{"x":-0.35,"y":0.13},{"x":-0.36,"y":0.02},{"x":-0.34,"y":-0.03},{"x":-0.65,"y":0.18},{"x":-0.88,"y":-0.05},{"x":-0.81,"y":-0.15},
{"x":-0.76,"y":-0.10},{"x":-0.77,"y":-0.15},{"x":-0.67,"y":-0.12},{"x":-0.97,"y":-0.23}
 ],
 "green": [{"o":1,"x":2.88,"y":1.81},{"o":2,"x":3.05,"y":2.03},{"o":3,"x":3.2,"y":2.12},{"o":4,"x":3.35,"y":2.12},{"o":5,"x":3.5,"y":1.99},{"o":6,"x":3.7,"y":1.81},{"o":7,"x":3.93,"y":1.58}],
 "note": [{"x":-0.91,"y":4.5,"t":"z~2 dropout selection"}],
 "legtext": [{"x":2.62,"y":-0.05,"t":"Objects in catalog"},{"x":2.62,"y":-0.32,"t":"1σ upper limit"},{"x":2.62,"y":-0.65,"t":"Stars"}],
 "legcirc": [{"x":2.51,"y":0.10}],
 "legarrow": [{"x":2.50,"y":-0.33}],
 "legstar": [{"x":2.50,"y":-0.60}]
},
"encoding": {
 "x": {"field": "x", "type": "quantitative", "scale": {"domain": [-1, 5], "nice": false, "zero": false}, "axis": null},
 "y": {"field": "y", "type": "quantitative", "scale": {"domain": [-1, 5], "nice": false, "zero": false}, "axis": null}
},
"layer": [
 {"data": {"name": "box"}, "mark": {"type": "area", "color": "#ADD8E6", "opacity": 1},
  "encoding": {
   "x": {"field": "x", "type": "quantitative", "scale": {"domain": [-1, 5], "nice": false, "zero": false},
         "axis": {"orient": "bottom", "values": [-1,0,1,2,3,4,5], "offset": -16, "tickSize": 16, "tickWidth": 3, "domain": false, "labelPadding": 16, "labelExpr": "'' + datum.value", "labelFlush": false, "labelOverlap": false, "title": "F336W-F625W", "titlePadding": -9}},
   "y": {"field": "ylo", "type": "quantitative", "scale": {"domain": [-1, 5], "nice": false, "zero": false},
         "axis": {"orient": "left", "values": [-1,0,1,2,3,4,5], "offset": -16, "tickSize": 16, "tickWidth": 3, "domain": false, "labelPadding": 14, "labelExpr": "'' + datum.value", "labelFlush": true, "labelOverlap": false, "title": "F275W-F336W", "titlePadding": 33}},
   "y2": {"field": "yhi"}
  }},
 {"data": {"name": "boxline"}, "mark": {"type": "line", "color": "black", "strokeWidth": 2},
  "encoding": {"order": {"field": "o", "type": "quantitative"}}},
 {"data": {"name": "gray"}, "mark": {"type": "errorbar", "color": "#C8C8C8", "thickness": 1.5, "ticks": false}, "encoding": {"xError": {"field": "ex"}}},
 {"data": {"name": "gray"}, "mark": {"type": "errorbar", "color": "#C8C8C8", "thickness": 1.5, "ticks": false}, "encoding": {"yError": {"field": "ey"}}},
 {"data": {"name": "gray"}, "mark": {"type": "point", "shape": "circle", "filled": true, "size": 80, "color": "#BEBEBE", "opacity": 1}},
 {"data": {"name": "garrow"}, "mark": {"type": "errorbar", "color": "#C8C8C8", "thickness": 1.5, "ticks": false}, "encoding": {"xError": {"field": "ex"}}},
 {"data": {"name": "garrow"}, "mark": {"type": "point", "shape": "M0,0V-2M-0.55,-1.35L0,-2L0.55,-1.35", "filled": false, "size": 529, "strokeWidth": 3.5, "color": "#BEBEBE", "opacity": 1}},
 {"data": {"name": "blue"}, "mark": {"type": "errorbar", "color": "#7F9BEF", "thickness": 1.5, "ticks": false}, "encoding": {"xError": {"field": "ex"}}},
 {"data": {"name": "blue"}, "mark": {"type": "errorbar", "color": "#7F9BEF", "thickness": 1.5, "ticks": false}, "encoding": {"yError": {"field": "ey"}}},
 {"data": {"name": "blue"}, "mark": {"type": "point", "shape": "circle", "filled": true, "size": 110, "color": "#0000FF", "opacity": 1}},
 {"data": {"name": "barrow"}, "mark": {"type": "errorbar", "color": "#2A45F0", "thickness": 1.5, "ticks": false}, "encoding": {"xError": {"field": "ex"}}},
 {"data": {"name": "barrow"}, "mark": {"type": "point", "shape": "M0,0V-2M-0.55,-1.35L0,-2L0.55,-1.35", "filled": false, "size": 529, "strokeWidth": 3.5, "color": "#0000FF", "opacity": 1}},
 {"data": {"name": "tracks"}, "mark": {"type": "line", "color": "black", "strokeWidth": 1.5},
  "encoding": {
   "x": {"field": "x", "type": "quantitative", "scale": {"domain": [-1, 5], "nice": false, "zero": false},
         "axis": {"orient": "bottom", "ticks": false, "labels": false, "domain": true, "title": null}},
   "y": {"field": "y", "type": "quantitative", "scale": {"domain": [-1, 5], "nice": false, "zero": false},
         "axis": {"orient": "left", "ticks": false, "labels": false, "domain": true, "title": null}},
   "detail": {"field": "t", "type": "nominal"}, "order": {"field": "o", "type": "quantitative"}}},
 {"data": {"name": "tracks"}, "mark": {"type": "point", "shape": "M-1,0H1M0,-1V1", "filled": false, "size": 196, "strokeWidth": 2, "color": "black", "opacity": 1},
  "encoding": {
   "x": {"field": "x", "type": "quantitative", "scale": {"domain": [-1, 5], "nice": false, "zero": false},
         "axis": {"orient": "top", "ticks": false, "labels": false, "domain": true, "title": null}},
   "y": {"field": "y", "type": "quantitative", "scale": {"domain": [-1, 5], "nice": false, "zero": false},
         "axis": {"orient": "right", "ticks": false, "labels": false, "domain": true, "title": null}}
  }},
 {"data": {"name": "stars"}, "mark": {"type": "point", "shape": "M-1,0H1M0,-1V1M-0.71,-0.71L0.71,0.71M-0.71,0.71L0.71,-0.71", "filled": false, "size": 289, "strokeWidth": 1.5, "color": "#FFA500", "opacity": 1, "clip": true}},
 {"data": {"name": "green"}, "mark": {"type": "line", "color": "#00BB00", "strokeWidth": 8, "strokeDash": [26, 12], "interpolate": "monotone"},
  "encoding": {"order": {"field": "o", "type": "quantitative"}}},
 {"data": {"name": "note"}, "mark": {"type": "text", "align": "left", "baseline": "alphabetic", "fontSize": 32, "font": "Liberation Sans", "color": "black"},
  "encoding": {"text": {"field": "t"}}},
 {"data": {"name": "legtext"}, "mark": {"type": "text", "align": "left", "baseline": "alphabetic", "fontSize": 35, "font": "Liberation Sans", "color": "black"},
  "encoding": {"text": {"field": "t"}}},
 {"data": {"name": "legcirc"}, "mark": {"type": "point", "shape": "circle", "filled": true, "size": 120, "color": "#BEBEBE", "opacity": 1}},
 {"data": {"name": "legarrow"}, "mark": {"type": "point", "shape": "M0,0V-2M-0.55,-1.35L0,-2L0.55,-1.35", "filled": false, "size": 576, "strokeWidth": 4, "color": "#BEBEBE", "opacity": 1}},
 {"data": {"name": "legstar"}, "mark": {"type": "point", "shape": "M-1,0H1M0,-1V1M-0.71,-0.71L0.71,0.71M-0.71,0.71L0.71,-0.71", "filled": false, "size": 196, "strokeWidth": 1.5, "color": "#FFA500", "opacity": 1}},
 {"data": {"name": "tmaj"}, "mark": {"type": "point", "filled": false, "size": 256, "strokeWidth": 3, "color": "black", "opacity": 1},
  "encoding": {"shape": {"field": "s", "type": "nominal", "scale": {"domain": ["b", "t", "l", "r"], "range": ["M0,0V-2", "M0,0V2", "M0,0H2", "M0,0H-2"]}, "legend": null}}},
 {"data": {"name": "tmin"}, "mark": {"type": "point", "filled": false, "size": 64, "strokeWidth": 2.5, "color": "black", "opacity": 1},
  "encoding": {"shape": {"field": "s", "type": "nominal", "scale": {"domain": ["b", "t", "l", "r"], "range": ["M0,0V-2", "M0,0V2", "M0,0H2", "M0,0H-2"]}, "legend": null}}}
]
}
